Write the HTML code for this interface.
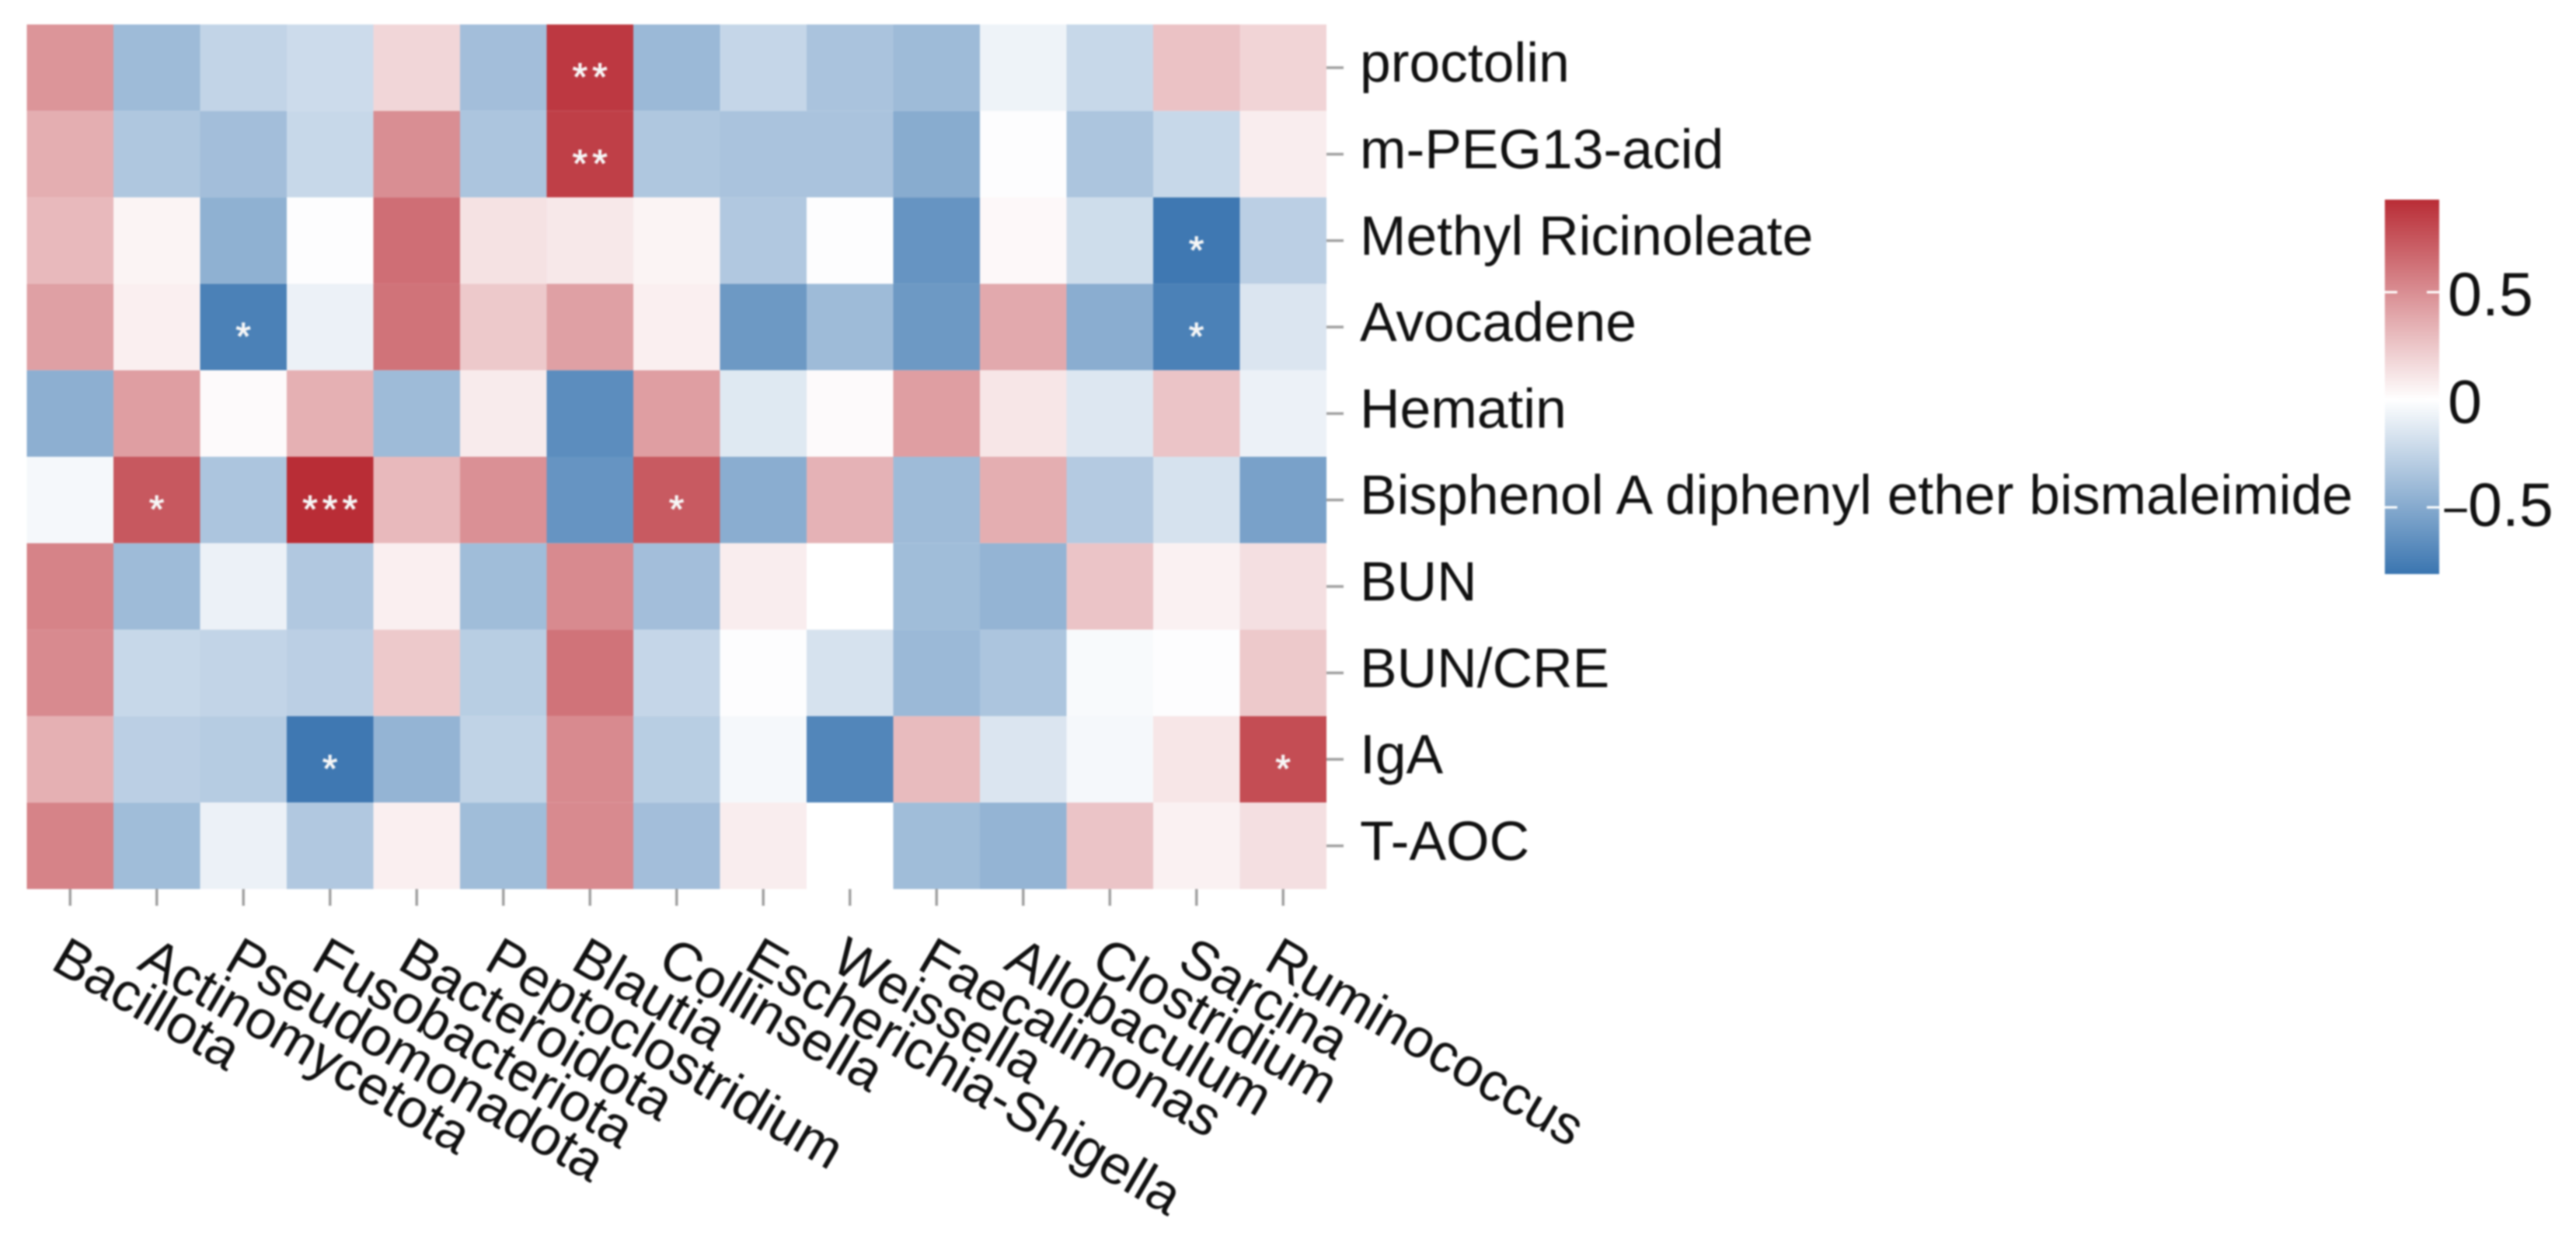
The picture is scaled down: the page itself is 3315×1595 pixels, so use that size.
<!DOCTYPE html>
<html lang="en">
<head>
<meta charset="utf-8">
<title>Correlation heatmap</title>
<style>
html,body{margin:0;padding:0;background:#fff;width:3315px;height:1595px;overflow:hidden}
svg{display:block;filter:blur(1px)}
text{font-family:"Liberation Sans",Arial,sans-serif;fill:#111;text-rendering:geometricPrecision}
</style>
</head>
<body>
<svg id="chart" xmlns="http://www.w3.org/2000/svg" width="3315" height="1595" viewBox="0 0 3315 1595">
<rect width="3315" height="1595" fill="#fff"/>
<defs><linearGradient id="legendGradient" x1="0" y1="0" x2="0" y2="1"></linearGradient></defs>
<g id="cells"></g>
<g id="stars"></g>
<g id="xaxis"></g>
<g id="yaxis"></g>
<g id="legend"></g>
</svg>
<script>
const columns = ["Bacillota","Actinomycetota","Pseudomonadota","Fusobacteriota","Bacteroidota","Peptoclostridium","Blautia","Collinsella","Escherichia-Shigella","Weissella","Faecalimonas","Allobaculum","Clostridium","Sarcina","Ruminococcus"];
const rows = ["proctolin","m-PEG13-acid","Methyl Ricinoleate","Avocadene","Hematin","Bisphenol A diphenyl ether bismaleimide","BUN","BUN/CRE","IgA","T-AOC"];
const values = [
 [0.47,-0.40,-0.25,-0.21,0.18,-0.38,0.88,-0.41,-0.24,-0.35,-0.40,-0.07,-0.23,0.27,0.19],
 [0.36,-0.33,-0.38,-0.23,0.50,-0.34,0.85,-0.33,-0.35,-0.35,-0.49,-0.01,-0.34,-0.23,0.08],
 [0.31,0.05,-0.46,-0.01,0.64,0.13,0.10,0.05,-0.32,-0.01,-0.63,0.03,-0.20,-0.79,-0.28],
 [0.42,0.07,-0.74,-0.08,0.62,0.24,0.42,0.07,-0.60,-0.40,-0.60,0.38,-0.48,-0.74,-0.15],
 [-0.47,0.43,0.02,0.35,-0.40,0.09,-0.67,0.43,-0.13,0.02,0.43,0.11,-0.14,0.26,-0.08],
 [-0.04,0.74,-0.34,0.93,0.31,0.49,-0.63,0.73,-0.48,0.34,-0.40,0.36,-0.31,-0.17,-0.55],
 [0.55,-0.40,-0.08,-0.32,0.07,-0.39,0.52,-0.38,0.08,0,-0.39,-0.44,0.26,0.06,0.14],
 [0.52,-0.23,-0.25,-0.28,0.24,-0.29,0.62,-0.24,-0.01,-0.17,-0.41,-0.34,-0.03,-0.01,0.24],
 [0.35,-0.28,-0.30,-0.79,-0.44,-0.26,0.52,-0.29,-0.04,-0.71,0.30,-0.15,-0.04,0.11,0.79],
 [0.55,-0.39,-0.08,-0.32,0.07,-0.39,0.52,-0.38,0.08,0,-0.39,-0.44,0.26,0.06,0.14]
];
const stars = [
 ["","","","","","","**","","","","","","","",""],
 ["","","","","","","**","","","","","","","",""],
 ["","","","","","","","","","","","","","*",""],
 ["","","*","","","","","","","","","","","*",""],
 ["","","","","","","","","","","","","","",""],
 ["","*","","***","","","","*","","","","","","",""],
 ["","","","","","","","","","","","","","",""],
 ["","","","","","","","","","","","","","",""],
 ["","","","*","","","","","","","","","","","*"],
 ["","","","","","","","","","","","","","",""]
];
const legendTicks = [0.5, 0, -0.5];
const legendLabels = ["0.5", "0", "0.5"];
const legendRange = [0.93, -0.81];

const NS = "http://www.w3.org/2000/svg";
const plot = {left: 34.5, top: 31.5, right: 1707, bottom: 1144.5};
const bar = {left: 3069, right: 3139, top: 257, bottom: 739};
const hot = [185, 45, 54];
const cold = [58, 117, 176];

function xBand(i) { return plot.left + i * (plot.right - plot.left) / columns.length; }
function yBand(i) { return plot.top + i * (plot.bottom - plot.top) / rows.length; }
function colorScale(v) {
  const end = v >= 0 ? hot : cold;
  const t = v >= 0 ? Math.min(1, v / legendRange[0]) : Math.min(1, v / legendRange[1]);
  const c = end.map(function (e) { return Math.round(255 + (e - 255) * t); });
  return "rgb(" + c.join(",") + ")";
}
function legendY(v) {
  return bar.top + (legendRange[0] - v) / (legendRange[0] - legendRange[1]) * (bar.bottom - bar.top);
}
function make(tag, attrs, parent, text) {
  const el = document.createElementNS(NS, tag);
  Object.keys(attrs).forEach(function (k) { el.setAttribute(k, attrs[k]); });
  if (text !== undefined) el.textContent = text;
  parent.appendChild(el);
  return el;
}

const cellsG = document.getElementById("cells");
const starsG = document.getElementById("stars");
const xG = document.getElementById("xaxis");
const yG = document.getElementById("yaxis");
const legendG = document.getElementById("legend");

values.forEach(function (row, r) {
  row.forEach(function (v, c) {
    const x0 = xBand(c), x1 = xBand(c + 1), y0 = yBand(r), y1 = yBand(r + 1);
    const cell = make("rect", {x: x0, y: y0, width: x1 - x0, height: y1 - y0, fill: colorScale(v)}, cellsG);
    
    
    const s = stars[r][c];
    if (s) {
      const st = make("text", {x: (x0 + x1) / 2 + 3, y: (y0 + y1) / 2 + 29, "text-anchor": "middle", "font-size": 50, "letter-spacing": 6.2, style: "fill:#f6f6f6;stroke:#f6f6f6;stroke-width:1"}, starsG, s);
      
      
    }
  });
});

columns.forEach(function (name, i) {
  const cx = (xBand(i) + xBand(i + 1)) / 2;
  const tick = make("line", {x1: cx, x2: cx, y1: plot.bottom, y2: 1166, stroke: "#a0a0a0", "stroke-width": 3.5}, xG);
  
  
  const tx = cx - 27, ty = 1246;
  const label = make("text", {x: tx, y: ty, "font-size": 70, transform: "rotate(30.3 " + tx + " " + ty + ")"}, xG, name);
  
  
});

rows.forEach(function (name, i) {
  const cy = (yBand(i) + yBand(i + 1)) / 2;
  const tick = make("line", {x1: plot.right, x2: 1729, y1: cy, y2: cy, stroke: "#a0a0a0", "stroke-width": 3.5}, yG);
  
  
  const label = make("text", {x: 1750, y: cy + 18, "font-size": 71.4}, yG, name);
  
  
});

const grad = document.getElementById("legendGradient");
[legendRange[0], 0, legendRange[1]].forEach(function (v) {
  make("stop", {offset: (legendY(v) - bar.top) / (bar.bottom - bar.top), "stop-color": colorScale(v)}, grad);
});
const barRect = make("rect", {x: bar.left, y: bar.top, width: bar.right - bar.left, height: bar.bottom - bar.top, fill: "url(#legendGradient)"}, legendG);



legendTicks.forEach(function (v, i) {
  const y = legendY(v);
  const t1 = make("line", {x1: bar.left, x2: bar.left + 16, y1: y, y2: y, stroke: "#fff", "stroke-width": 3}, legendG);
  
  
  const t2 = make("line", {x1: bar.right - 16, x2: bar.right, y1: y, y2: y, stroke: "#fff", "stroke-width": 3}, legendG);
  
  
  const negative = v < 0;
  const base = y + (negative ? 24 : 30);
  const label = make("text", {x: negative ? 3176 : 3150, y: base, "font-size": 79}, legendG, legendLabels[i]);
  
  
  if (negative) {
    const sign = make("text", {x: 3142.5, y: base, "font-size": 60}, legendG, "\u2212");
    
    
  }
});
</script>
</body>
</html>
